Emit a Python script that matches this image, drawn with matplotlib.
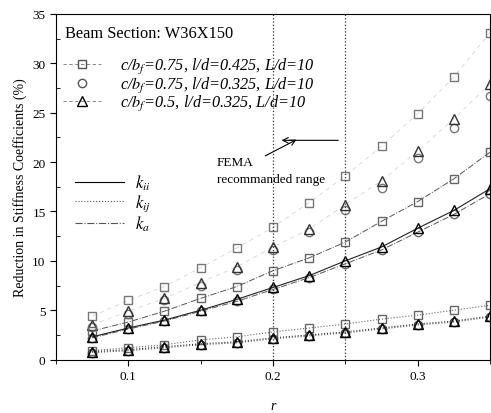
import numpy as np
import matplotlib.pyplot as plt
from matplotlib.lines import Line2D

plt.rcParams['font.family'] = 'Liberation Serif'
plt.rcParams['mathtext.fontset'] = 'stix'

## Data
#
r = [0.075, 0.1, 0.125, 0.15, 0.175, 0.2, 0.225, 0.25, 0.275, 0.3, 0.325, 0.35]

# upper group of points
sq_top = [4.4, 6.0, 7.4, 9.3, 11.3, 13.4, 15.9, 18.6, 21.6, 24.9, 28.6, 33.1]
ci_top = [3.3, 4.6, 6.0, 7.5, 9.1, 11.1, 12.9, 15.1, 17.4, 20.4, 23.4, 26.7]
tr_top = [3.5, 4.9, 6.2, 7.8, 9.4, 11.4, 13.2, 15.7, 18.1, 21.1, 24.4, 27.9]

# middle group
sq_mid = [2.9, 3.8, 4.9, 6.2, 7.4, 9.0, 10.3, 11.9, 14.0, 16.0, 18.3, 21.0]
ci_mid = [2.2, 3.1, 3.9, 4.9, 5.9, 7.1, 8.3, 9.7, 11.1, 12.9, 14.7, 16.8]
tr_mid = [2.3, 3.2, 4.0, 5.0, 6.1, 7.3, 8.5, 10.0, 11.4, 13.3, 15.1, 17.3]

# lower group
sq_bot = [0.9, 1.2, 1.5, 2.0, 2.3, 2.8, 3.2, 3.6, 4.1, 4.5, 5.0, 5.5]
ci_bot = [0.7, 0.9, 1.2, 1.5, 1.7, 2.1, 2.4, 2.7, 3.1, 3.5, 3.8, 4.3]
tr_bot = [0.8, 1.0, 1.3, 1.6, 1.8, 2.2, 2.5, 2.8, 3.2, 3.6, 3.9, 4.4]

legend_labels = [r"c/$b_f$=0.75, l/d=0.425, L/d=10",
                 r"c/$b_f$=0.75, l/d=0.325, L/d=10",
                 r"c/$b_f$=0.5, l/d=0.325, L/d=10"]
k_labels = [r"$k_{ii}$", r"$k_{ij}$", r"$k_{a}$"]

fig = plt.figure(figsize=(4.91, 4.14), dpi=100)
ax = fig.add_axes([0.114, 0.129, 0.884, 0.835])

ms = 6
# upper group - faint lines
ax.plot(r, sq_top, ls=(0, (6, 6)), lw=0.5, color='#cccccc', marker='s', mfc='none', mec='#777777', ms=ms)
ax.plot(r, ci_top, ls='none', marker='o', mfc='none', mec='#777777', ms=ms)
ax.plot(r, tr_top, ls=(0, (6, 6)), lw=0.5, color='#cccccc', marker='^', mfc='none', mec='#333333', ms=ms+1)

# middle group
ax.plot(r, sq_mid, ls='-.', lw=0.7, color='#555555', marker='s', mfc='none', mec='#666666', ms=ms)
ax.plot(r, ci_mid, ls='-.', lw=0.7, color='#555555', marker='o', mfc='none', mec='#666666', ms=ms)
ax.plot(r, tr_mid, ls='-', lw=0.8, color='#222222', marker='^', mfc='none', mec='black', ms=ms+1)

# lower group
ax.plot(r, sq_bot, ls=':', lw=0.8, color='#666666', marker='s', mfc='none', mec='#666666', ms=ms)
ax.plot(r, ci_bot, ls=':', lw=0.8, color='#666666', marker='o', mfc='none', mec='#444444', ms=ms)
ax.plot(r, tr_bot, ls=':', lw=0.8, color='#333333', marker='^', mfc='none', mec='black', ms=ms+1)

# FEMA range
ax.axvline(0.2, color='#333333', ls=':', lw=0.9)
ax.axvline(0.25, color='#333333', ls=':', lw=0.9)
ax.annotate('', xy=(0.204, 22.2), xytext=(0.247, 22.2),
            arrowprops=dict(arrowstyle='->', color='black', lw=0.8))
ax.annotate('', xy=(0.218, 22.4), xytext=(0.193, 20.5),
            arrowprops=dict(arrowstyle='->', color='black', lw=0.8))
ax.text(0.161, 20.0, 'FEMA', fontsize=9.5, va='center', ha='left')
ax.text(0.161, 18.3, 'recommanded range', fontsize=9.5, va='center', ha='left')

ax.text(0.0562, 33.1, 'Beam Section: W36X150', fontsize=11.8, va='center', ha='left')

h1 = [Line2D([], [], ls=(0, (4, 3)), lw=0.6, color='#777777', marker='s', mfc='none', mec='#555555', ms=ms),
      Line2D([], [], ls='none', marker='o', mfc='none', mec='#555555', ms=ms),
      Line2D([], [], ls=(0, (4, 3)), lw=0.6, color='#777777', marker='^', mfc='none', mec='black', ms=ms+1)]
leg1 = ax.legend(h1, legend_labels, loc='upper left', bbox_to_anchor=(-0.017, 0.92),
                 frameon=False, handlelength=2.3, handletextpad=1.2, labelspacing=-0.1,
                 prop={'style': 'italic', 'size': 11.7})
ax.add_artist(leg1)

h2 = [Line2D([], [], ls='-', lw=0.8, color='black'),
      Line2D([], [], ls=':', lw=0.8, color='#555555'),
      Line2D([], [], ls='-.', lw=0.8, color='#555555')]
ax.legend(h2, k_labels, loc='upper left', bbox_to_anchor=(0.01, 0.583),
          frameon=False, handlelength=2.9, handletextpad=0.7, labelspacing=0.02,
          prop={'size': 12})

ax.set_xlim(0.05, 0.35)
ax.set_ylim(0, 35)
ax.set_xticks([0.1, 0.2, 0.3])
ax.set_xticklabels(['0.1', '0.2', '0.3'])
ax.set_xticks([0.05, 0.15, 0.25, 0.35], minor=True)
ax.set_yticks(np.arange(0, 36, 5))
ax.set_yticks(np.arange(2.5, 35, 5), minor=True)
ax.tick_params(axis='both', which='major', direction='out', length=4, labelsize=9.5)
ax.tick_params(axis='y', which='minor', direction='in', length=3)
ax.tick_params(axis='x', which='minor', direction='out', length=3)

ax.set_xlabel('r', fontsize=10, style='italic', labelpad=12)
ax.set_ylabel('Reduction in Stiffness Coefficients (%)', fontsize=10, labelpad=4)

fig.savefig('out.png', dpi=100)
